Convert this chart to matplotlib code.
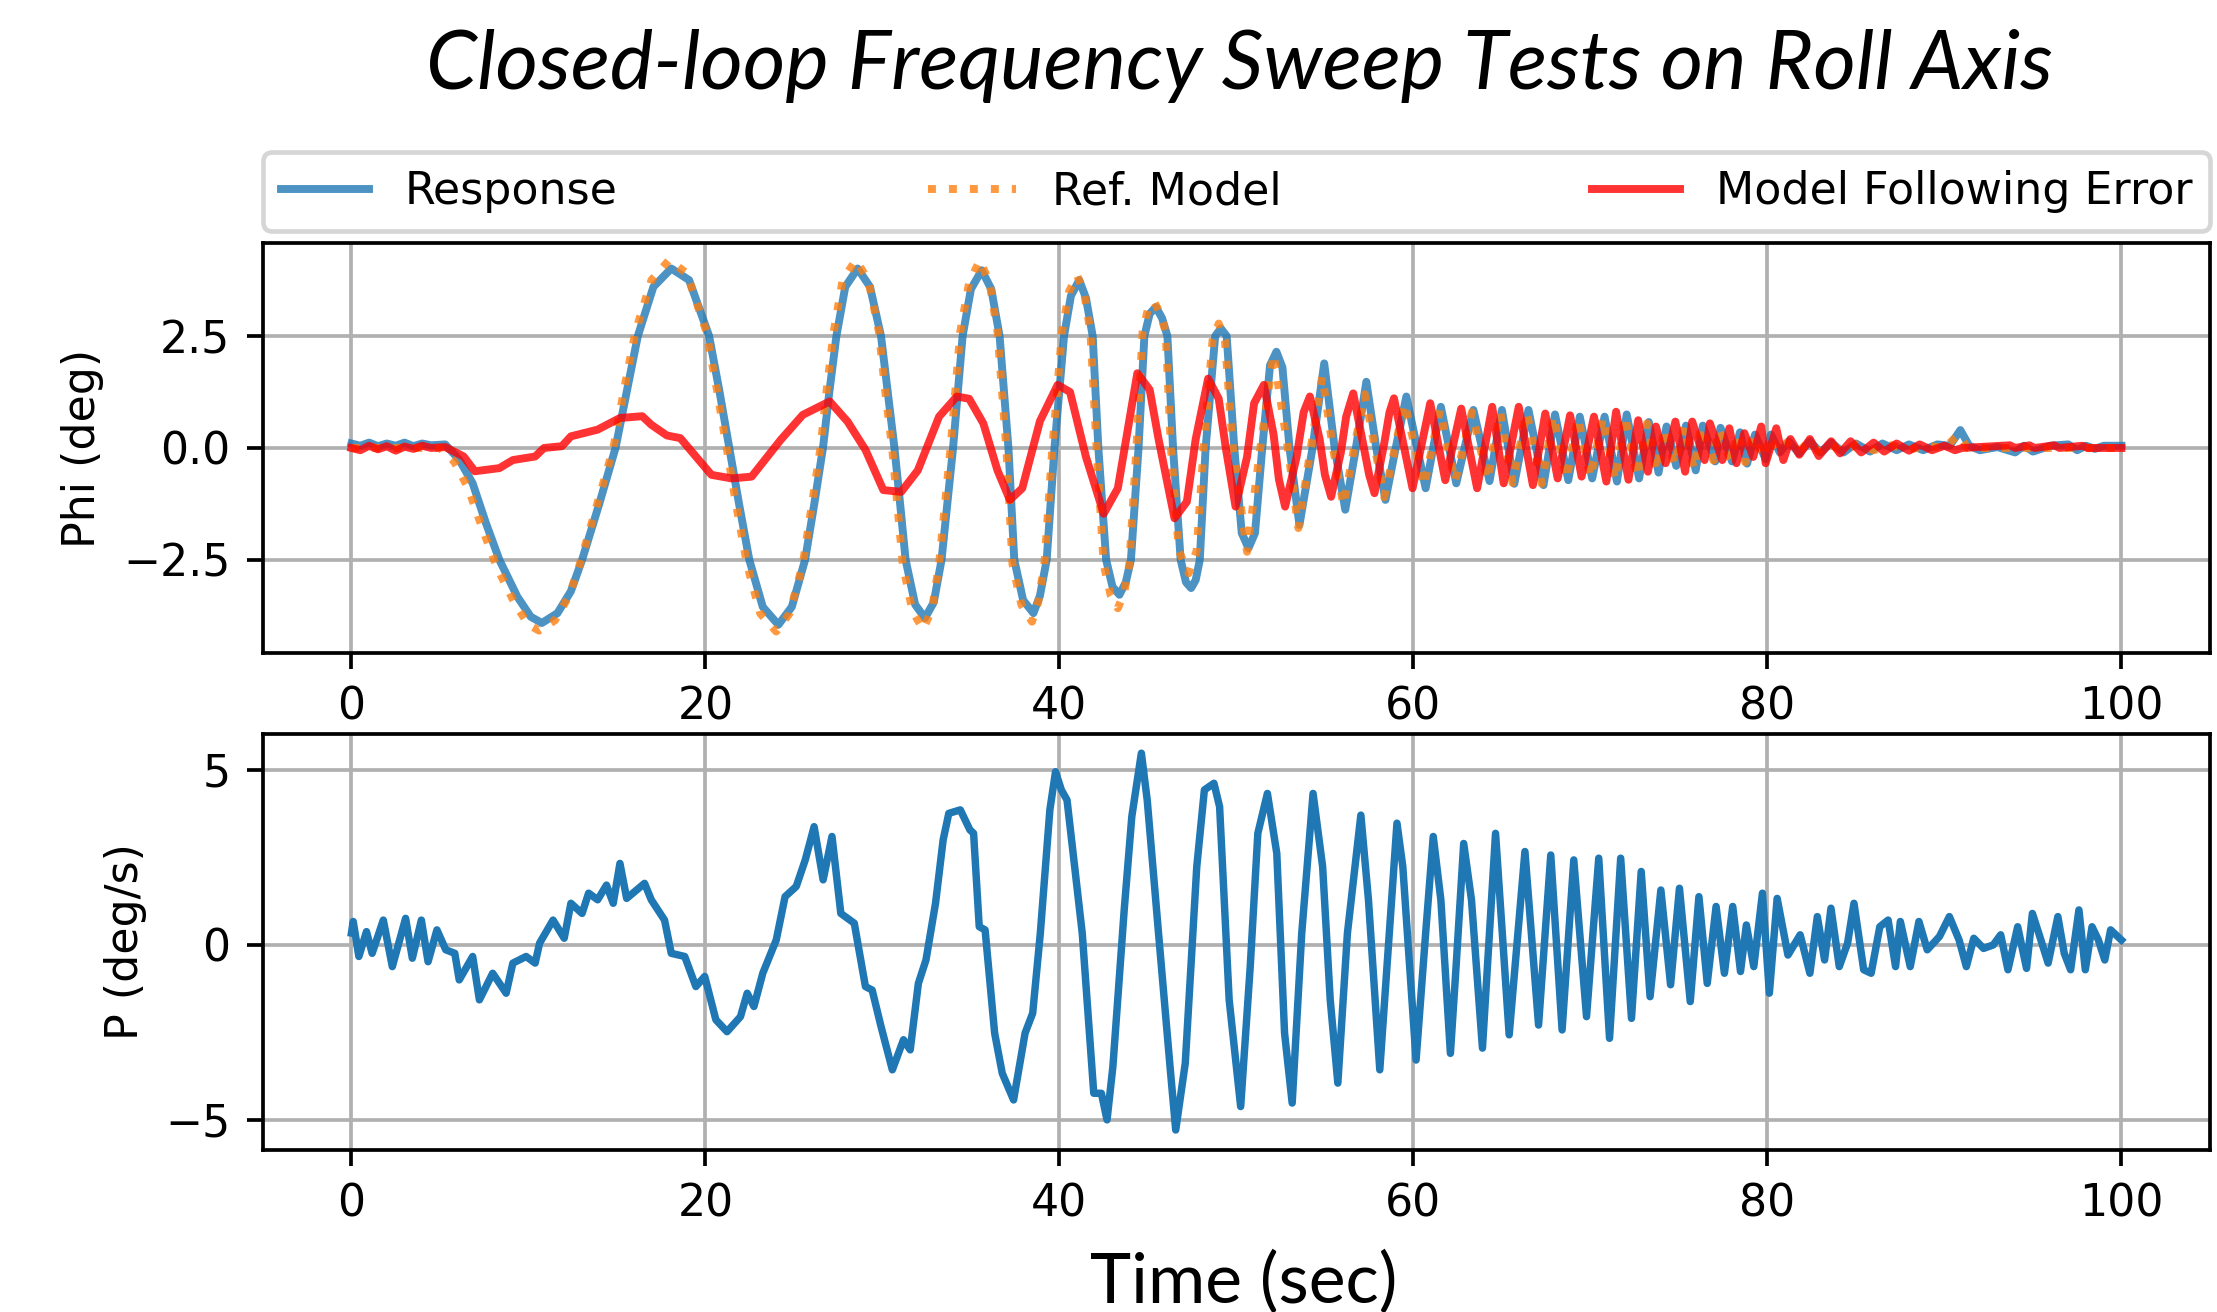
import matplotlib
matplotlib.use("Agg")
import matplotlib.pyplot as plt

# ---- data (time in s) ----
# roll angle response (deg)
resp_t = [0.0, 0.5, 1.0, 1.5, 2.0, 2.5, 3.0, 3.5, 4.0, 4.5, 5.3, 6.1, 6.85, 7.6, 8.36,
          9.37, 10.13, 10.76, 11.64, 12.4, 13.03, 14.0, 14.92, 15.55, 16.18, 17.06, 18.07,
          19.08, 20.21, 20.8, 21.35, 21.9, 22.48, 23.24, 24.12, 24.88, 25.63, 26.15, 26.64,
          27.0, 27.4, 27.9, 28.6, 29.3, 29.92, 30.3, 30.68, 31.0, 31.31, 31.85, 32.4,
          32.9, 33.34, 33.99, 34.53, 35.0, 35.61, 36.15, 36.62, 37.12, 37.45, 37.95, 38.53,
          38.9, 39.28, 39.72, 40.26, 40.65, 41.12, 41.5, 41.88, 42.2, 42.64, 43.0, 43.39,
          43.75, 44.04, 44.47, 44.8, 45.1, 45.45, 45.8, 46.1, 46.42, 46.85, 47.15, 47.44,
          47.7, 47.93, 48.26, 48.8, 49.12, 49.45, 49.88, 50.3, 50.68, 51.05, 51.46, 51.9,
          52.26, 52.6, 53.0, 53.56, 54.3, 54.96, 55.55, 56.15, 56.75, 57.34, 57.9, 58.42,
          59.0, 59.6, 60.69, 61.55, 62.42, 63.39, 64.3, 65.0, 65.7, 66.5, 67.35, 68.0,
          68.75, 69.4, 70.1, 70.8, 71.5, 72.05, 72.75, 73.3, 73.85, 74.3, 74.85, 75.4,
          75.95, 76.35, 77.05, 77.35, 78.0, 78.45, 78.85, 79.3, 79.9, 80.2, 80.7, 81.2,
          81.8, 82.4, 83.0, 83.6, 84.3, 85.0, 85.8, 86.5, 87.3, 88.0, 88.8, 89.6, 90.3,
          90.9, 91.4, 92.0, 93.0, 94.0, 94.5, 95.0, 96.0, 97.0, 97.5, 98.0, 98.5, 99.0, 100.0]
resp_phi = [0.10, 0.05, 0.12, 0.04, 0.10, 0.05, 0.12, 0.04, 0.10, 0.06, 0.08, -0.27, -0.79, -1.68, -2.5,
            -3.32, -3.77, -3.91, -3.69, -3.2, -2.5, -1.25, 0.0, 1.25, 2.5, 3.6, 4.01,
            3.75, 2.5, 1.25, 0.0, -1.25, -2.5, -3.55, -3.95, -3.55, -2.5, -1.25, 0.0,
            1.25, 2.5, 3.6, 4.01, 3.6, 2.5, 1.25, 0.0, -1.25, -2.5, -3.5, -3.8,
            -3.45, -2.5, 0.0, 2.5, 3.55, 3.97, 3.55, 2.5, 0.0, -2.5, -3.4, -3.69,
            -3.3, -2.5, 0.0, 2.5, 3.4, 3.75, 3.35, 2.5, 0.0, -2.5, -3.1, -3.28,
            -3.0, -2.5, 0.0, 2.5, 3.0, 3.15, 2.9, 2.5, 0.0, -2.5, -3.0, -3.13,
            -2.95, -2.5, 0.0, 2.5, 2.67, 2.5, 0.0, -1.9, -2.24, -1.9, 0.0, 1.85,
            2.15, 1.8, 0.0, -1.72, 0.0, 1.89, 0.0, -1.38, 0.0, 1.48, 0.0, -1.16,
            0.0, 1.15, -0.9, 0.92, -0.79, 0.85, -0.74, 0.85, -0.80, 0.85, -0.83, 0.75,
            -0.72, 0.70, -0.68, 0.70, -0.75, 0.75, -0.68, 0.58, -0.55, 0.48, -0.40, 0.50,
            -0.50, 0.50, -0.30, 0.45, -0.30, 0.35, -0.35, 0.30, -0.25, 0.30, -0.10, 0.15,
            -0.12, 0.15, -0.10, 0.12, -0.10, 0.10, -0.08, 0.10, -0.05, 0.08, -0.05, 0.08, 0.05,
            0.40, 0.05, -0.05, 0.02, -0.10, 0.05, -0.08, 0.05, 0.08, -0.05, 0.05, -0.02, 0.05, 0.05]

# reference model (deg)
ref_t = [0.0, 5.0, 5.8, 6.6, 7.4, 8.2, 9.2, 10.0, 10.6, 11.5, 12.3, 12.9, 13.85, 14.8, 15.4,
         16.05, 16.95, 17.95, 18.95, 20.05, 20.65, 21.2, 21.75, 22.35, 23.1, 24.0, 24.75,
         25.5, 26.0, 26.5, 26.85, 27.25, 27.75, 28.5, 29.2, 29.8, 30.15, 30.55, 30.85,
         31.15, 31.7, 32.3, 32.8, 33.2, 33.85, 34.4, 34.9, 35.5, 36.05, 36.5, 37.0, 37.35,
         37.85, 38.45, 38.8, 39.15, 39.6, 40.15, 40.55, 41.0, 41.4, 41.75, 42.1, 42.5,
         42.9, 43.3, 43.65, 43.95, 44.35, 44.7, 45.0, 45.35, 45.7, 46.0, 46.3, 46.75,
         47.3, 47.75, 48.15, 48.65, 49.0, 49.35, 49.8, 50.6, 51.35, 52.1, 52.9, 53.5,
         54.2, 54.85, 55.45, 56.05, 56.65, 57.25, 58.35, 59.5, 60.6, 61.5, 62.35, 63.3,
         64.2, 64.9, 65.6, 66.4, 67.25, 67.9, 68.65, 69.3, 70.0, 70.7, 71.4, 71.95, 72.65,
         73.2, 73.75, 74.2, 74.75, 75.3, 75.85, 76.25, 76.95, 77.25, 77.9, 78.35, 78.75,
         79.2, 79.8, 80.1, 80.6, 81.1, 81.7, 82.3, 82.9, 83.5, 84.2, 85.0, 86.0, 87.0,
         88.0, 89.0, 90.0, 90.8, 91.3, 100.0]
ref_phi = [0.0, 0.0, -0.3, -0.9, -1.8, -2.65, -3.45, -3.95, -4.08, -3.85, -3.3, -2.6, -1.3, 0.0, 1.3,
           2.6, 3.75, 4.2, 3.9, 2.6, 1.3, 0.0, -1.3, -2.6, -3.7, -4.1, -3.7,
           -2.6, -1.3, 0.0, 1.3, 2.6, 3.75, 4.2, 3.75, 2.6, 1.3, 0.0, -1.3,
           -2.6, -3.65, -4.05, -3.6, -2.6, 0.0, 2.6, 3.7, 4.19, 3.7, 2.6, 0.0, -2.6,
           -3.5, -3.88, -3.45, -2.6, 0.0, 2.6, 3.5, 3.86, 3.45, 2.6, 0.0, -2.6,
           -3.3, -3.58, -3.25, -2.6, 0.0, 2.6, 3.1, 3.27, 3.0, 2.6, 0.0, -2.3,
           -2.8, -2.3, 0.0, 2.4, 2.78, 2.4, 0.0, -2.32, 0.0, 2.1, 0.0, -1.79,
           0.0, 1.6, 0.0, -1.28, 0.0, 1.2, -1.1, 1.0, -0.85, 0.85, -0.75, 0.8,
           -0.72, 0.8, -0.78, 0.8, -0.8, 0.72, -0.7, 0.68, -0.66, 0.68, -0.72, 0.72, -0.65,
           0.55, -0.52, 0.45, -0.38, 0.48, -0.48, 0.48, -0.28, 0.42, -0.28, 0.32, -0.32,
           0.28, -0.22, 0.25, -0.08, 0.12, -0.1, 0.12, -0.08, 0.1, -0.08, 0.08, -0.05, 0.06,
           -0.04, 0.05, 0.0, 0.30, 0.0, 0.0]

# model following error (deg)
err_t = [0.0, 0.5, 1.0, 1.5, 2.0, 2.5, 3.0, 3.5, 4.0, 4.5, 5.3, 6.34, 6.97, 8.36, 9.12,
         10.38, 10.88, 11.89, 12.4, 13.91, 15.17, 16.43, 16.94, 17.82, 18.58, 20.34, 21.48,
         22.61, 24.25, 25.5, 27.02, 28.03, 29.04, 30.05, 31.06, 32.0, 33.2, 34.2, 34.9,
         35.7, 36.5, 37.2, 37.9, 38.9, 39.9, 40.6, 41.5, 42.5, 43.3, 44.4, 45.1, 45.6,
         46.5, 47.2, 47.7, 48.4, 49.0, 49.4, 49.95, 50.6, 51.0, 51.55, 52.1, 52.4, 52.75,
         53.4, 53.8, 54.15, 54.7, 55.0, 55.35, 55.9, 56.2, 56.6, 57.15, 57.5, 57.8,
         58.35, 58.65, 58.9, 59.95, 60.95, 61.8, 62.7, 63.6, 64.45, 65.1, 65.95, 66.75,
         67.45, 68.15, 68.85, 69.5, 70.2, 70.9, 71.45, 72.15, 72.7, 73.25, 73.7, 74.25,
         74.8, 75.35, 75.75, 76.45, 76.75, 77.45, 77.85, 78.25, 78.7, 79.2, 79.65, 79.9,
         80.5, 80.9, 81.3, 81.8, 82.4, 82.9, 83.6, 84.1, 84.7, 85.3, 86.0, 86.6, 87.3,
         88.0, 88.6, 89.3, 90.0, 90.6, 91.0, 93.7, 94.0, 94.8, 95.1, 96.2, 96.5, 97.8,
         98.1, 100.0]
err_phi = [0.0, -0.05, 0.05, -0.03, 0.04, -0.06, 0.03, -0.02, 0.05, 0.0, 0.02, -0.19, -0.52, -0.45, -0.27,
           -0.19, 0.0, 0.04, 0.26, 0.41, 0.67, 0.71, 0.52, 0.28, 0.22, -0.6, -0.68,
           -0.64, 0.18, 0.74, 1.04, 0.59, -0.04, -0.94, -0.98, -0.5, 0.7, 1.15, 1.1,
           0.55, -0.5, -1.16, -0.9, 0.6, 1.41, 1.25, -0.2, -1.47, -0.9, 1.67, 1.3, 0.2,
           -1.57, -1.2, 0.2, 1.55, 1.1, 0.0, -1.31, -0.2, 1.0, 1.41, 0.3, -0.7, -1.31,
           -0.2, 0.8, 1.15, 0.2, -0.6, -1.09, -0.1, 0.7, 1.22, 0.1, -0.6, -1.01,
           0.1, 0.8, 1.11, -0.9, 1.0, -0.72, 0.88, -0.9, 0.92, -0.79, 0.92, -0.83,
           0.77, -0.68, 0.73, -0.64, 0.70, -0.75, 0.81, -0.71, 0.62, -0.53, 0.48, -0.34,
           0.59, -0.53, 0.59, -0.27, 0.55, -0.27, 0.44, -0.34, 0.33, -0.2, 0.48, -0.34,
           0.44, -0.27, 0.2, -0.15, 0.2, -0.18, 0.15, -0.12, 0.15, -0.1, 0.12, -0.08, 0.1,
           -0.06, 0.08, -0.05, 0.05, -0.05, 0.0, 0.06, 0.0, 0.06, 0.0, 0.06, 0.0, 0.05,
           0.0, 0.0]

# roll rate P (deg/s)
p_t = [0.0, 0.1, 0.42, 0.85, 1.17, 1.8, 2.31, 3.06, 3.44, 3.95, 4.33, 4.83, 5.33, 5.84,
       6.09, 6.85, 7.23, 7.98, 8.74, 9.12, 9.87, 10.38, 10.63, 11.39, 12.02, 12.4, 13.03,
       13.4, 13.91, 14.41, 14.79, 15.17, 15.55, 16.56, 16.94, 17.69, 18.07, 18.83, 19.46,
       19.96, 20.59, 21.22, 21.98, 22.36, 22.74, 23.24, 24.0, 24.5, 25.13, 25.64, 26.14,
       26.65, 27.15, 27.65, 28.41, 29.04, 29.42, 29.92, 30.56, 31.19, 31.57, 32.03, 32.46,
       33.0, 33.43, 33.75, 34.4, 34.94, 35.15, 35.47, 35.8, 36.34, 36.77, 37.41, 38.06,
       38.49, 38.92, 39.46, 39.78, 40.11, 40.43, 41.29, 41.94, 42.37, 42.69, 43.02, 43.66,
       44.09, 44.63, 44.96, 45.6, 46.25, 46.57, 47.11, 47.76, 48.19, 48.73, 49.05, 49.59,
       50.24, 50.78, 51.21, 51.75, 52.28, 52.72, 53.15, 53.69, 54.33, 54.87, 55.3, 55.73,
       56.27, 57.03, 57.46, 58.1, 58.64, 59.07, 59.4, 60.15, 60.69, 61.12, 61.55, 62.09,
       62.41, 62.84, 63.28, 63.9, 64.64, 65.41, 66.3, 67.07, 67.76, 68.4, 69.06, 69.78,
       70.47, 71.08, 71.71, 72.32, 72.87, 73.37, 73.98, 74.53, 75.03, 75.64, 76.13, 76.6,
       77.1, 77.57, 78.04, 78.48, 78.81, 79.23, 79.72, 80.11, 80.55, 81.16, 81.85, 82.4,
       82.82, 83.23, 83.59, 84.06, 84.53, 84.89, 85.44, 85.86, 86.35, 86.82, 87.24, 87.51,
       88.07, 88.56, 89.03, 89.72, 90.28, 90.83, 91.24, 91.66, 92.21, 92.76, 93.18, 93.59,
       94.14, 94.64, 94.97, 95.39, 95.86, 96.41, 96.77, 97.13, 97.6, 97.96, 98.34, 98.7,
       99.06, 99.39, 100.0]
p_val = [0.34, 0.67, -0.33, 0.38, -0.24, 0.71, -0.62, 0.76, -0.38, 0.71, -0.48, 0.43, -0.14, -0.24,
         -1.0, -0.33, -1.57, -0.81, -1.38, -0.52, -0.33, -0.52, 0.05, 0.71, 0.19, 1.19, 0.9,
         1.48, 1.29, 1.71, 1.19, 2.33, 1.33, 1.76, 1.29, 0.71, -0.24, -0.33, -1.19,
         -0.9, -2.14, -2.48, -2.05, -1.38, -1.76, -0.81, 0.14, 1.38, 1.67, 2.43, 3.38,
         1.86, 3.1, 0.9, 0.62, -1.19, -1.29, -2.33, -3.57, -2.71, -3.0, -1.1, -0.43,
         1.19, 3.0, 3.76, 3.86, 3.29, 3.19, 0.52, 0.43, -2.52, -3.67, -4.43, -2.52,
         -1.95, 0.33, 3.86, 4.95, 4.43, 4.14, 0.33, -4.24, -4.24, -5.0, -3.48, 1.0,
         3.67, 5.48, 4.14, 0.33, -3.48, -5.29, -3.38, 2.24, 4.43, 4.62, 3.95, -1.57,
         -4.62, -0.62, 3.19, 4.33, 2.62, -2.52, -4.52, 0.33, 4.33, 2.24, -1.57, -3.95,
         0.33, 3.71, 1.29, -3.57, 0.33, 3.48, 2.24, -3.29, 0.33, 3.1, 1.29, -3.1,
         -0.62, 2.9, 1.29, -2.95, 3.19, -2.57, 2.67, -2.29, 2.57, -2.43, 2.43, -2.05,
         2.48, -2.67, 2.48, -2.1, 2.1, -1.48, 1.57, -1.14, 1.62, -1.62, 1.38, -1.1,
         1.1, -0.81, 1.1, -0.76, 0.57, -0.62, 1.48, -1.38, 1.33, -0.29, 0.29, -0.81,
         0.81, -0.43, 1.05, -0.62, 0.05, 1.19, -0.71, -0.81, 0.52, 0.71, -0.62, 0.67,
         -0.62, 0.67, -0.14, 0.24, 0.81, 0.14, -0.62, 0.19, -0.1, 0.0, 0.29, -0.71,
         0.52, -0.67, 0.9, 0.24, -0.52, 0.81, -0.24, -0.71, 1.0, -0.71, 0.52, 0.14,
         -0.43, 0.43, 0.14]

x_ticks = [0, 20, 40, 60, 80, 100]
phi_ticks = [-2.5, 0.0, 2.5]
p_ticks = [-5, 0, 5]

DPI = 335
fig = plt.figure(figsize=(2217 / DPI, 1312 / DPI), dpi=DPI)
plt.rcParams['font.size'] = 9.5

ax1 = fig.add_axes([0.1186, 0.5023, 0.8782, 0.3125])
ax2 = fig.add_axes([0.1186, 0.1235, 0.8782, 0.3171])

ax1.plot(resp_t, resp_phi, color='tab:blue', lw=1.7, alpha=0.8, label='Response')
ax1.plot(ref_t, ref_phi, color='tab:orange', lw=1.7, ls=':', alpha=0.8, label='Ref. Model')
ax1.plot(err_t, err_phi, color='red', lw=1.7, alpha=0.8, label='Model Following Error')
ax1.set_xlim(-5, 105)
ax1.set_ylim(-4.58, 4.58)
ax1.set_xticks(x_ticks)
ax1.set_yticks(phi_ticks)
ax1.set_ylabel('Phi (deg)')
ax1.grid(True)
ax1.legend(bbox_to_anchor=(0, 1.03, 1, 0.1), loc='lower left', mode='expand',
           borderaxespad=0, ncol=3)

ax2.plot(p_t, p_val, color='tab:blue', lw=1.6)
ax2.set_xlim(-5, 105)
ax2.set_ylim(-5.86, 6.03)
ax2.set_xticks(x_ticks)
ax2.set_yticks(p_ticks)
ax2.set_ylabel('P (deg/s)')
ax2.grid(True)

fig.text(1239 / 2217, 1 - 66 / 1312, 'Closed-loop Frequency Sweep Tests on Roll Axis',
         family='Lato', style='italic', fontsize=17.6, ha='center', va='center')
fig.text(1244 / 2217, 1 - 1282 / 1312, 'Time (sec)', family='Lato', fontsize=15,
         ha='center', va='center')

fig.savefig('out.png', dpi=DPI)
